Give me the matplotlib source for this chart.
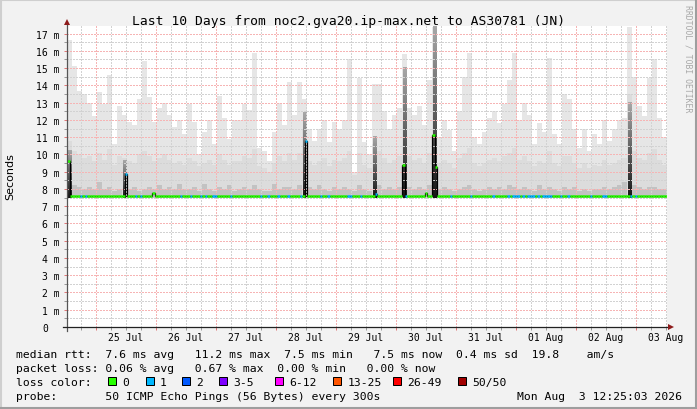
import matplotlib
matplotlib.use("Agg")
import matplotlib.pyplot as plt
import numpy as np
from matplotlib.patches import Rectangle

# ---------------- data ----------------
title = "Last 10 Days from noc2.gva20.ip-max.net to AS30781 (JN)"
day_labels = ["25 Jul", "26 Jul", "27 Jul", "28 Jul", "29 Jul",
              "30 Jul", "31 Jul", "01 Aug", "02 Aug", "03 Aug"]
start_clock = 12 + 25 / 60 + 3 / 3600      # graph starts 24 Jul 12:25:03
span_hours = 240

# smoke, one value per 2 hours (ms)
smoke_top = [16.6, 15.1, 13.7, 13.5, 13.0, 12.2, 13.6, 12.9, 14.6, 10.6, 12.8, 12.3,
             11.9, 11.7, 13.2, 15.4, 13.3, 11.9, 12.7, 13.0, 12.3, 11.6, 12.0, 11.2,
             12.9, 11.9, 10.0, 11.3, 12.0, 10.6, 13.4, 12.1, 10.9, 12.0, 12.0, 12.9,
             12.6, 15.9, 10.4, 10.2, 9.6, 11.3, 13.0, 11.7, 14.2, 12.3, 14.2, 13.2,
             11.5, 10.8, 11.5, 12.0, 10.7, 11.9, 11.5, 12.0, 15.5, 9.0, 14.4, 10.7,
             10.0, 14.1, 14.1, 12.5, 11.5, 12.3, 12.7, 15.8, 12.7, 12.3, 12.8, 11.7,
             14.3, 17.4, 11.0, 12.0, 11.4, 10.2, 12.5, 14.5, 15.9, 11.0, 10.6, 11.3,
             12.1, 12.5, 11.8, 12.9, 14.3, 15.9, 12.0, 13.0, 12.3, 10.6, 11.8, 11.3,
             15.6, 11.2, 10.6, 13.5, 13.2, 11.5, 10.4, 11.5, 10.2, 11.2, 10.6, 12.0,
             10.8, 11.5, 12.0, 12.1, 17.4, 14.5, 12.8, 12.2, 14.4, 15.5, 12.1, 11.0]
smoke_upper = [10.8, 10.2, 10.0, 9.8, 9.9, 9.6, 10.1, 9.7, 10.3, 9.4, 9.9, 9.8,
               9.6, 9.5, 10.0, 10.2, 9.9, 9.6, 9.8, 10.0, 9.7, 9.5, 9.6, 9.4,
               9.8, 9.6, 9.3, 9.5, 9.7, 9.4, 10.0, 9.7, 9.4, 9.6, 9.6, 9.9,
               9.8, 10.3, 9.3, 9.2, 9.0, 9.5, 9.9, 9.6, 10.1, 9.7, 10.1, 11.5,
               9.6, 9.4, 9.6, 9.8, 9.3, 9.7, 9.6, 9.8, 10.2, 8.8, 10.1, 9.4,
               9.2, 10.6, 10.2, 9.8, 9.5, 9.7, 9.9, 12.0, 9.9, 9.7, 9.8, 9.5,
               10.1, 14.5, 9.5, 9.7, 9.5, 9.2, 9.8, 10.1, 10.4, 9.5, 9.3, 9.5,
               9.7, 9.8, 9.6, 9.9, 10.1, 10.4, 9.7, 9.9, 9.6, 9.3, 9.6, 9.5,
               10.2, 9.5, 9.3, 9.9, 9.9, 9.5, 9.2, 9.5, 9.2, 9.4, 9.3, 9.7,
               9.4, 9.5, 9.7, 9.8, 13.5, 10.2, 9.8, 9.7, 10.1, 10.3, 9.7, 9.4]
smoke_core = [10.2, 8.2, 8.1, 8.0, 8.1, 8.0, 8.4, 8.0, 8.1, 7.9, 8.0, 9.6,
              8.0, 8.1, 7.9, 8.0, 8.1, 8.0, 8.2, 8.0, 8.1, 8.0, 8.3, 8.0,
              8.0, 8.1, 7.9, 8.3, 8.0, 7.9, 8.1, 8.0, 8.2, 7.9, 8.0, 8.1,
              8.0, 8.2, 8.0, 7.9, 7.9, 8.3, 8.0, 8.1, 8.1, 8.0, 8.2, 12.4,
              8.1, 8.0, 8.2, 8.0, 7.9, 8.1, 8.0, 8.1, 8.0, 7.9, 8.2, 8.0,
              7.9, 11.0, 8.2, 8.0, 8.1, 8.0, 8.1, 15.0, 8.1, 8.0, 8.1, 8.0,
              8.2, 17.4, 8.0, 8.1, 8.0, 7.9, 8.0, 8.1, 8.2, 8.0, 7.9, 8.0,
              8.1, 8.0, 8.1, 8.0, 8.2, 8.1, 8.0, 8.1, 8.0, 7.9, 8.2, 8.0,
              8.1, 8.0, 7.9, 8.1, 8.0, 8.1, 7.9, 8.0, 7.9, 8.0, 8.0, 8.1,
              8.0, 8.1, 8.2, 8.4, 13.0, 8.2, 8.1, 8.0, 8.1, 8.1, 8.0, 8.0]

# median rtt, one value per hour (ms), one row per day
median_rtt = [
    9.6, 7.6, 7.6, 7.6, 7.6, 7.6, 7.6, 7.6, 7.6, 7.6, 7.6, 7.6, 7.6, 7.6, 7.6, 7.6, 7.6, 7.6, 7.6, 7.6, 7.6, 7.6, 7.6, 8.85,
    7.6, 7.6, 7.6, 7.6, 7.6, 7.6, 7.6, 7.6, 7.6, 7.6, 7.75, 7.6, 7.6, 7.6, 7.6, 7.6, 7.6, 7.6, 7.6, 7.6, 7.6, 7.6, 7.6, 7.6,
    7.6, 7.6, 7.6, 7.6, 7.6, 7.6, 7.6, 7.6, 7.6, 7.6, 7.6, 7.6, 7.6, 7.6, 7.6, 7.6, 7.6, 7.6, 7.6, 7.6, 7.6, 7.6, 7.6, 7.6,
    7.6, 7.6, 7.6, 7.6, 7.6, 7.6, 7.6, 7.6, 7.6, 7.6, 7.6, 7.6, 7.6, 7.6, 7.6, 7.6, 7.6, 7.6, 7.6, 7.6, 7.6, 7.6, 7.6, 10.8,
    7.6, 7.6, 7.6, 7.6, 7.6, 7.6, 7.6, 7.6, 7.6, 7.6, 7.6, 7.6, 7.6, 7.6, 7.6, 7.6, 7.6, 7.6, 7.6, 7.6, 7.6, 7.6, 7.6, 7.6,
    7.6, 7.6, 7.6, 7.7, 7.6, 7.6, 7.6, 7.6, 7.6, 7.6, 7.6, 7.6, 7.6, 7.6, 9.4, 7.6, 7.6, 7.6, 7.6, 7.6, 7.6, 7.6, 7.6, 7.75,
    7.6, 7.6, 11.15, 9.27, 7.6, 7.6, 7.6, 7.6, 7.6, 7.6, 7.6, 7.6, 7.6, 7.6, 7.6, 7.6, 7.6, 7.6, 7.6, 7.6, 7.6, 7.6, 7.6, 7.6,
    7.6, 7.6, 7.6, 7.6, 7.6, 7.6, 7.6, 7.6, 7.6, 7.6, 7.6, 7.6, 7.6, 7.6, 7.6, 7.6, 7.6, 7.6, 7.6, 7.6, 7.6, 7.6, 7.6, 7.6,
    7.6, 7.6, 7.6, 7.6, 7.6, 7.6, 7.6, 7.6, 7.6, 7.6, 7.6, 7.6, 7.6, 7.6, 7.6, 7.6, 7.6, 7.6, 7.6, 7.6, 7.6, 7.6, 7.6, 7.6,
    7.6, 7.6, 7.6, 7.6, 7.6, 7.6, 7.6, 7.6, 7.6, 7.6, 7.6, 7.6, 7.6, 7.6, 7.6, 7.6, 7.6, 7.6, 7.6, 7.6, 7.6, 7.6, 7.6, 7.6,
]

# lost pings per hour (index into loss_colors), one string per day
loss_rows = ["000001010000000000000001",
             "000101000000000000000100",
             "010001010011000001000000",
             "000001001000100010000101",
             "000001001000000011000100",
             "000100000000000100000000",
             "000000000100000001000000",
             "001000001011101011101011",
             "110001001000000001000011",
             "000000000101000000000000"]

loss_labels = ["0", "1", "2", "3-5", "6-12", "13-25", "26-49", "50/50"]
loss_colors = ["#26ff00", "#00b8ff", "#0059ff", "#7e00ff",
               "#ff00ff", "#ff5500", "#ff0000", "#a10000"]

legend_lines = [
    "median rtt:  7.6 ms avg   11.2 ms max  7.5 ms min   7.5 ms now  0.4 ms sd  19.8    am/s",
    "packet loss: 0.06 % avg   0.67 % max  0.00 % min   0.00 % now",
    "loss color:",
    "probe:       50 ICMP Echo Pings (56 Bytes) every 300s",
]
stamp = "Mon Aug  3 12:25:03 2026"

# ---------------- figure ----------------
W, H = 697, 410
MONO = "DejaVu Sans Mono"
fig = plt.figure(figsize=(W / 100, H / 100), dpi=100, facecolor="#f2f2f2")
ax = fig.add_axes([67 / W, 1 - 328 / H, 600 / W, 301 / H])
ax.set_facecolor("white")

ymax = 17.44
base = 7.45
nb = len(smoke_top)
bw = span_hours / nb
left = np.arange(nb) * bw

ax.bar(left, np.array(smoke_top) - base, bottom=base, width=bw, align="edge",
       color="#e6e6e6", lw=0, zorder=1)
ax.bar(left, np.array(smoke_upper) - base, bottom=base, width=bw, align="edge",
       color="#dcdcdc", lw=0, zorder=1.1)
core = np.array(smoke_core)
calm = core < 9
ax.bar(left[calm], core[calm] - base, bottom=base, width=bw, align="edge",
       color="#c2c2c2", lw=0, zorder=1.2)
grad = np.linspace(0, 1, 64).reshape(-1, 1)
for l, c in zip(left[~calm], core[~calm]):
    ax.imshow(grad, extent=[l + 0.3, l + bw - 0.3, base, c], origin="lower",
              cmap="gray", vmin=-0.15, vmax=1.6, aspect="auto", zorder=1.3,
              interpolation="bilinear")

# median line with loss colours
hours = np.arange(len(median_rtt))
loss = [int(ch) for row in loss_rows for ch in row]
ax.stairs(median_rtt, np.arange(len(median_rtt) + 1), color="black", lw=0.9,
          baseline=None, zorder=4)
ax.hlines(median_rtt, hours, hours + 1, colors=[loss_colors[k] for k in loss],
          lw=1.8, zorder=5)

ax.set_xlim(0, span_hours)
ax.set_ylim(0, ymax)
ax.set_aspect("auto")

# grid
first_midnight = 24 - start_clock
ax.set_xticks(np.arange(first_midnight, span_hours, 24))
ax.set_xticks(np.arange(first_midnight - 6, span_hours, 6), minor=True)
ax.set_yticks(np.arange(0, 18, 1))
ax.set_yticks(np.arange(0.5, ymax, 1), minor=True)
ax.set_axisbelow(False)
ax.grid(True, which="major", color="#f6b4b4", ls=(0, (1, 1)), lw=0.75,
        antialiased=False)
ax.grid(True, which="minor", color="#d2d2d2", ls=(0, (1, 1)), lw=0.75,
        antialiased=False)
ax.tick_params(which="major", direction="out", length=2.2, width=0.72,
               color="#e07878", labelbottom=False, labelleft=False)
ax.tick_params(which="minor", direction="out", length=2.2, width=0.72,
               color="#9a9a9a")
for s in ax.spines.values():
    s.set_visible(False)

# axes with arrows
ax.plot([0, 0], [-0.013, 1.004], transform=ax.transAxes, color="#555555",
        lw=0.9, clip_on=False, zorder=6)
ax.plot([-0.0067, 1.0], [0, 0], transform=ax.transAxes, color="#222222",
        lw=0.9, clip_on=False, zorder=6)
ax.plot([0], [1.012], marker="^", ms=4.5, mew=0, color="#8e1b1b",
        transform=ax.transAxes, clip_on=False, zorder=7)
ax.plot([1.0067], [0], marker=">", ms=4.5, mew=0, color="#8e1b1b",
        transform=ax.transAxes, clip_on=False, zorder=7)

# tick labels
ytr = ax.get_yaxis_transform()
for v in range(18):
    lab = "0" if v == 0 else f"{v} m"
    xp = 48.3 if v == 0 else 60
    ax.text((xp - 67) / 600, v, lab, transform=ytr, ha="right",
            va="center_baseline", fontsize=7, family=MONO)
xtr = ax.get_xaxis_transform()
for k, lab in enumerate(day_labels):
    ax.text(first_midnight + 12 + 24 * k, (328 - 340.7) / 301, lab, transform=xtr,
            ha="center", va="baseline", fontsize=7, family=MONO)


def px(x, y):
    return x / W, 1 - y / H


fig.text(*px(348.5, 24.7), title, ha="center", va="baseline", fontsize=9.4, family=MONO)
fig.text(*px(10.5, 177), "Seconds", rotation=90, ha="center", va="center",
         fontsize=8, family="DejaVu Sans")
fig.text(*px(688, 5), "RRDTOOL / TOBI OETIKER", rotation=270, ha="center", va="top",
         fontsize=5.9, family=MONO, color="#a8a8a8")

# legend
for y, line in zip([358, 372, 386, 400], legend_lines):
    fig.text(*px(16, y), line, ha="left", va="baseline", fontsize=8.2, family=MONO)
fig.text(*px(682, 400), stamp, ha="right", va="baseline", fontsize=8.2, family=MONO)

box_x = [108.3, 145.7, 182.3, 219, 275, 333.3, 393.3, 458.3]
for bx, lab, col in zip(box_x, loss_labels, loss_colors):
    fig.add_artist(Rectangle(px(bx, 386), 8 / W, 8 / H, transform=fig.transFigure,
                             facecolor=col, edgecolor="black", lw=0.72))
    fig.text(*px(bx + 14, 386), lab, ha="left", va="baseline", fontsize=8.2, family=MONO)

# frame
fig.add_artist(plt.Line2D([0, 1], [1 - 1 / H, 1 - 1 / H], transform=fig.transFigure, color="#cfcfcf", lw=1.5))
fig.add_artist(plt.Line2D([1 / W, 1 / W], [0, 1], transform=fig.transFigure, color="#cfcfcf", lw=1.5))
fig.add_artist(plt.Line2D([0, 1], [1 / H, 1 / H], transform=fig.transFigure, color="#9e9e9e", lw=1.5))
fig.add_artist(plt.Line2D([1 - 1 / W, 1 - 1 / W], [0, 1], transform=fig.transFigure, color="#9e9e9e", lw=1.5))

fig.savefig("out.png", dpi=100, facecolor=fig.get_facecolor())
